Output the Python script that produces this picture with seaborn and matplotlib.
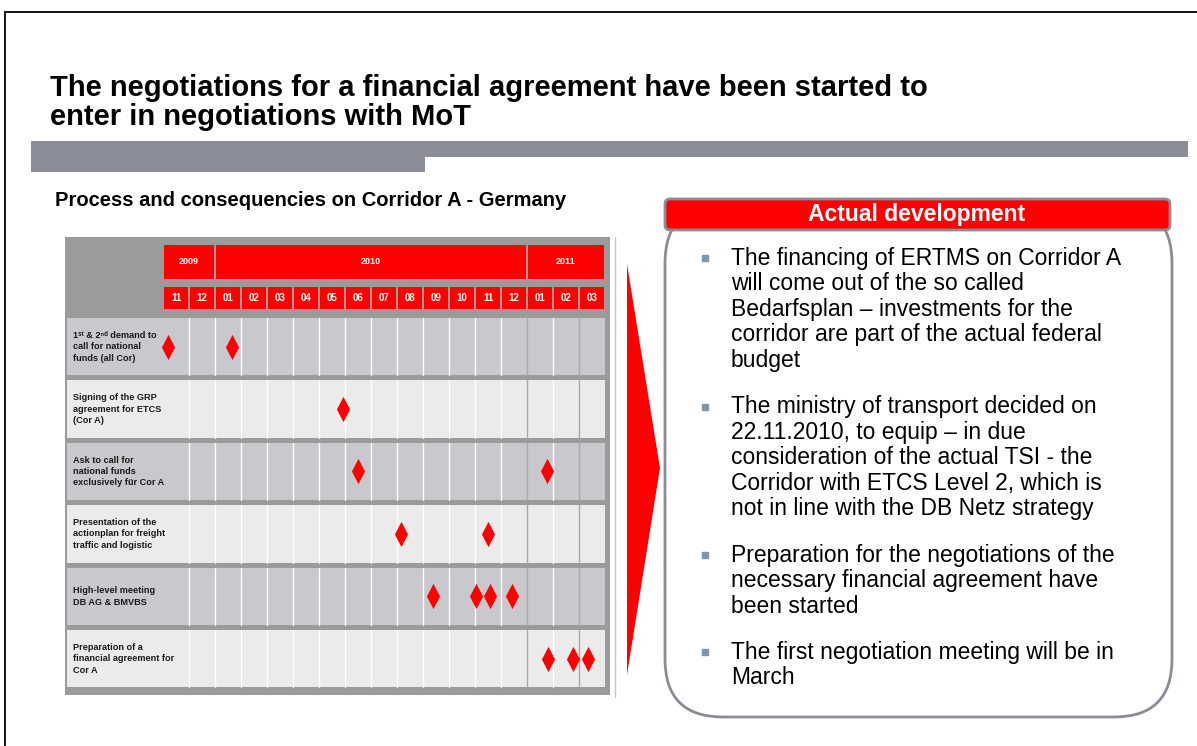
import pandas as pd
import matplotlib.pyplot as plt
import seaborn as sns
from matplotlib.patches import Rectangle, FancyBboxPatch, Polygon

sns.set_style('white')
plt.rcParams['font.family'] = ['Liberation Sans', 'DejaVu Sans']
plt.rcParams['text.color'] = 'black'

# Data
years = ['2009', '2010', '2011']
months_per_year = [2, 12, 3]
month_labels = ['11', '12', '01', '02', '03', '04', '05', '06', '07', '08',
                '09', '10', '11', '12', '01', '02', '03']
tasks = [
    '1ˢᵗ & 2ⁿᵈ demand to\ncall for national\nfunds (all Cor)',
    'Signing of the GRP\nagreement for ETCS\n(Cor A)',
    'Ask to call for\nnational funds\nexclusively für Cor A',
    'Presentation of the\nactionplan for freight\ntraffic and logistic',
    'High-level meeting\nDB AG & BMVBS',
    'Preparation of a\nfinancial agreement for\nCor A',
]
# milestones: task index and position in months counted from start of Nov 2009
milestone_task = [0, 0, 1, 2, 2, 3, 3, 4, 4, 4, 4, 5, 5, 5]
milestone_month = [0.19, 2.65, 6.92, 7.50, 14.77, 9.15, 12.50,
                   10.38, 12.04, 12.58, 13.42, 14.81, 15.77, 16.35]

title_lines = ['The negotiations for a financial agreement have been started to',
               'enter in negotiations with MoT']
subtitle = 'Process and consequencies on Corridor A - Germany'
panel_title = 'Actual development'
bullets = [
    ['The financing of ERTMS on Corridor A', 'will come out of the so called',
     'Bedarfsplan \u2013 investments for the', 'corridor are part of the actual federal',
     'budget'],
    ['The ministry of transport decided on', '22.11.2010, to equip \u2013 in due',
     'consideration of the actual TSI - the', 'Corridor with ETCS Level 2, which is',
     'not in line with the DB Netz strategy'],
    ['Preparation for the negotiations of the', 'necessary financial agreement have',
     'been started'],
    ['The first negotiation meeting will be in', 'March'],
]

RED = '#ff0000'
GREY_BAR = '#8b8e98'
small_font = ['Liberation Sans', 'DejaVu Sans']

fig = plt.figure(figsize=(11.97, 7.46), dpi=100)

# background layer in pixel coordinates
bg = fig.add_axes([0, 0, 1, 1])
bg.set_xlim(0, 1197)
bg.set_ylim(746, 0)
bg.axis('off')

bg.plot([5, 1197], [12, 12], color='black', lw=1.3)
bg.plot([5, 5], [12, 746], color='black', lw=1.3)

bg.add_patch(Rectangle((31, 141), 1157, 16, color=GREY_BAR, lw=0))
bg.add_patch(Rectangle((31, 157), 394, 15, color=GREY_BAR, lw=0))

bg.text(50, 88, title_lines[0], fontsize=21, fontweight='bold', va='center')
bg.text(50, 117, title_lines[1], fontsize=21, fontweight='bold', va='center')
bg.text(55, 200, subtitle, fontsize=14.5, fontweight='bold', va='center')

bg.plot([615, 615], [237, 697], color='#b9c9da', lw=1)

# arrow
bg.add_patch(Polygon([(627, 264), (660, 468), (627, 675)], closed=True, color=RED, lw=0))

# right panel
bg.add_patch(FancyBboxPatch((665, 205), 507, 512, boxstyle='round,pad=0,rounding_size=58',
                            fc='white', ec='#8a8d96', lw=2))
bg.add_patch(FancyBboxPatch((665, 199), 505, 31, boxstyle='round,pad=0,rounding_size=5',
                            fc=RED, ec='#8a8d96', lw=2))
bg.text(917, 215, panel_title, color='white', fontsize=16.5, fontweight='bold',
        ha='center', va='center')

y = 258
for lines in bullets:
    bg.plot(705, y, marker='s', ms=4.5, color='#8096ae')
    for line in lines:
        bg.text(731, y, line, fontsize=16.5, va='center')
        y += 25.6
    y += 20.5

# gantt chart
gx = fig.add_axes([65 / 1197, 1 - 695 / 746, 545 / 1197, 458 / 746])
gx.set_facecolor('#9b9b9b')
n_months = len(month_labels)
x_left = -3.69
band_h = 0.92

for r, label in enumerate(tasks):
    fc = '#c9c9cd' if r % 2 == 0 else '#ebebeb'
    gx.add_patch(Rectangle((x_left, r), n_months - x_left, band_h, fc=fc, lw=0))
    for k in range(1, n_months):
        col = '#a8a8a8' if k in (14, 16) else 'white'
        gx.plot([k, k], [r, r + band_h], color=col, lw=1)
    gx.text(-3.46, r + band_h / 2, label, family=small_font, fontsize=6.6, fontweight='bold',
            va='center', ha='left', linespacing=1.35, color='#1a1a1a')

# year header
start = 0
for yr, n in zip(years, months_per_year):
    gx.add_patch(Rectangle((start + 0.04, -1.17), n - 0.08, 0.545, fc=RED, lw=0))
    gx.text(start + n / 2, -0.9, yr, family=small_font, fontsize=6.5, fontweight='bold',
            color='white', ha='center', va='center')
    start += n

for k, m in enumerate(month_labels):
    gx.add_patch(Rectangle((k + 0.03, -0.497), 0.94, 0.353, fc=RED, lw=0))
    gx.text(k + 0.5, -0.32, m, family=small_font, fontsize=7, fontweight='bold',
            color='white', ha='center', va='center')

ms = pd.DataFrame({'month': milestone_month,
                   'row': [t + band_h / 2 for t in milestone_task]})
diamond = [(0, 1), (0.52, 0), (0, -1), (-0.52, 0), (0, 1)]
sns.scatterplot(data=ms, x='month', y='row', marker=diamond, s=330, color=RED,
                linewidth=0, ax=gx, zorder=5)

gx.set_xlim(-3.769, 17.19)
gx.set_ylim(6.042, -1.298)
gx.set_xticks([])
gx.set_yticks([])
gx.set_xlabel('')
gx.set_ylabel('')
for s in gx.spines.values():
    s.set_visible(False)

fig.savefig('out.png', dpi=100)
